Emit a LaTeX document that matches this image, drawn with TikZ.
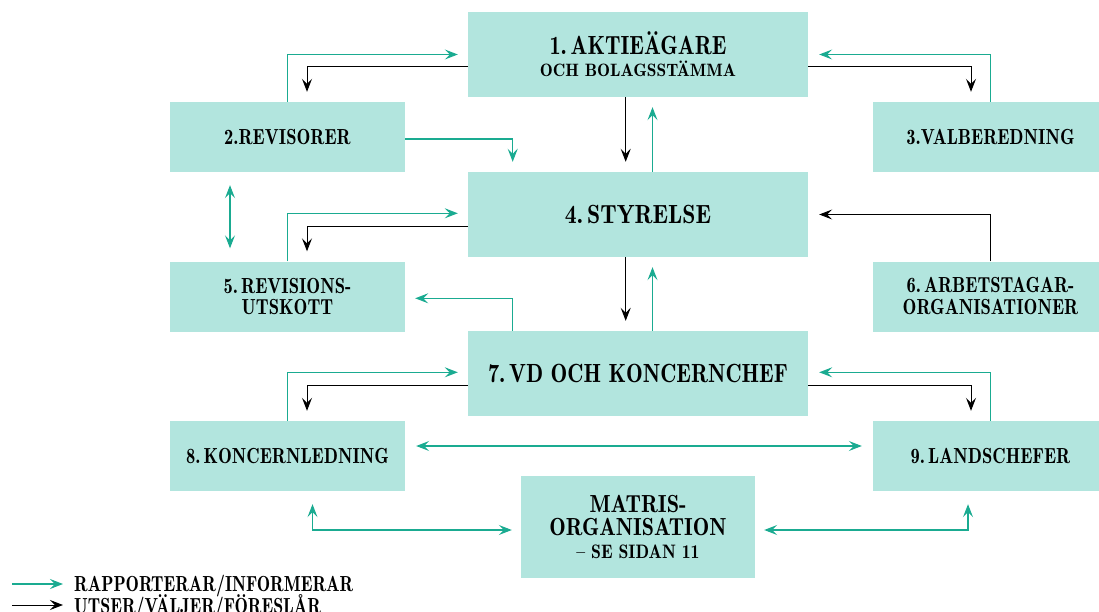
\documentclass[tikz,border=0pt]{standalone}
\usepackage{graphicx}
\usetikzlibrary{arrows.meta}
\definecolor{boxfill}{RGB}{178,229,222}
\definecolor{teal}{RGB}{26,171,145}
\newcommand{\sq}[2][0.85]{\scalebox{#1}[1]{#2}}
\newcommand{\bigf}{\fontseries{b}\fontsize{26.3}{22}\selectfont}
\newcommand{\medf}{\fontseries{b}\fontsize{21.8}{21}\selectfont}
\newcommand{\smlf}{\fontseries{b}\fontsize{17.9}{18}\selectfont}
\newcommand{\matf}{\fontseries{b}\fontsize{24.7}{23}\selectfont}
\newcommand{\matsf}{\fontseries{b}\fontsize{19.5}{23}\selectfont}
\tikzset{
  box/.style={fill=boxfill, draw=none, inner sep=0pt, align=center, text=black},
  bigbox/.style={box, minimum width=340pt, minimum height=85pt},
  medbox/.style={box, minimum width=235pt, minimum height=70pt},
  tl/.style={draw=teal, line width=1.1pt, -{Stealth[length=13pt,width=10pt,inset=5pt]}},
  tlboth/.style={draw=teal, line width=1.1pt, {Stealth[length=13pt,width=10pt,inset=5pt]}-{Stealth[length=13pt,width=10pt,inset=5pt]}},
  bl/.style={draw=black, line width=1pt, -{Stealth[length=13pt,width=10pt,inset=5pt]}},
}
\begin{document}
\begin{tikzpicture}[x=1pt,y=-1pt]
\useasboundingbox (0,0) rectangle (1099,612);
\clip (0,0) rectangle (1099,612);
% boxes
\node[bigbox, font=\fontsize{18}{21.7}\selectfont] (b1) at (638,54.5) {\bigf\sq{1.\,AKTIEÄGARE}\\\smlf\sq[0.97]{OCH BOLAGSSTÄMMA}};
\node[medbox] (b2) at (287.5,137) {\medf\sq{2.REVISORER}};
\node[medbox] (b3) at (990.5,137) {\medf\sq{3.VALBEREDNING}};
\node[bigbox] (b4) at (638,214.5) {\bigf\sq[0.9]{4.\,STYRELSE}};
\node[medbox, font=\fontsize{18}{21}\selectfont] (b5) at (287.5,296.5) {\medf\sq{5.\,REVISIONS-}\\\medf\sq{UTSKOTT}};
\node[medbox, font=\fontsize{18}{22}\selectfont] (b6) at (990.5,296.5) {\medf\sq{6.\,ARBETSTAGAR-}\\\medf\sq{ORGANISATIONER}};
\node[bigbox] (b7) at (638,373.5) {\bigf\sq{7.\,VD OCH KONCERNCHEF}};
\node[medbox] (b8) at (287.5,456) {\medf\sq{8.\,KONCERNLEDNING}};
\node[medbox] (b9) at (990.5,456) {\medf\sq{9.\,LANDSCHEFER}};
\node[box, minimum width=234pt, minimum height=102pt, font=\fontsize{18}{23.3}\selectfont] (m) at (638,527)
  {\matf\sq[0.9]{MATRIS-}\\
   \matf\sq[0.89]{ORGANISATION}\\
   \matsf\sq[0.91]{– SE SIDAN 11}};
% connectors top
\draw[tl, shorten >=10pt] (b2.north) |- (b1.west);
\draw[bl, shorten >=10pt] ([yshift=-12pt]b1.west) -| ([xshift=19.5pt]b2.north);
\draw[tl, shorten >=11pt] (b3.north) |- (b1.east);
\draw[bl, shorten >=10pt] ([yshift=-12pt]b1.east) -| ([xshift=-19.5pt]b3.north);
\draw[tl, shorten >=10pt] ([yshift=-2pt]b2.east) -| ([xshift=-125.3pt]b4.north);
\draw[bl, shorten >=10pt] ([xshift=-12.3pt]b1.south) -- ([xshift=-12.3pt]b4.north);
\draw[tl, shorten >=10pt] ([xshift=14.5pt]b4.north) -- ([xshift=14.5pt]b1.south);
% middle
\draw[tlboth, shorten <=13pt, shorten >=13pt] ([xshift=-57.5pt]b2.south) -- ([xshift=-57.5pt]b5.north);
\draw[tl, shorten >=10pt] (b5.north) |- ([yshift=1.2pt]b4.west);
\draw[bl, shorten >=10pt] ([yshift=-12pt]b4.west) -| ([xshift=19.5pt]b5.north);
\draw[tl, shorten >=10pt] ([xshift=-125.3pt]b7.north) |- ([yshift=-1.8pt]b5.east);
\draw[bl, shorten >=11pt] (b6.north) |- (b4.east);
\draw[bl, shorten >=10pt] ([xshift=-12.3pt]b4.south) -- ([xshift=-12.3pt]b7.north);
\draw[tl, shorten >=10pt] ([xshift=14.5pt]b7.north) -- ([xshift=14.5pt]b4.south);
% lower
\draw[tl, shorten >=10pt] (b8.north) |- ([yshift=1.2pt]b7.west);
\draw[bl, shorten >=10pt] ([yshift=-12pt]b7.west) -| ([xshift=19.5pt]b8.north);
\draw[tl, shorten >=11pt] (b9.north) |- ([yshift=1.2pt]b7.east);
\draw[bl, shorten >=10pt] ([yshift=-12pt]b7.east) -| ([xshift=-19.5pt]b9.north);
\draw[tlboth, shorten <=11pt, shorten >=11pt] ([yshift=10pt]b8.east) -- ([yshift=10pt]b9.west);
\draw[tlboth, shorten <=13pt, shorten >=9pt] ([xshift=25pt]b8.south) |- ([yshift=-3pt]m.west);
\draw[tlboth, shorten <=9pt, shorten >=13pt] ([yshift=-3pt]m.east) -| ([xshift=-22.5pt]b9.south);
% legend
\coordinate (l1a) at (12,584); \coordinate (l1b) at (63,584);
\coordinate (l2a) at (12,605); \coordinate (l2b) at (63,605);
\draw[tl] (l1a) -- (l1b);
\draw[bl] (l2a) -- (l2b);
\node[anchor=base west, inner sep=0pt] (lt1) at (74,591) {\medf\sq[0.82]{RAPPORTERAR/INFORMERAR}};
\node[anchor=base west, inner sep=0pt] (lt2) at (74,613) {\medf\sq[0.82]{UTSER/VÄLJER/FÖRESLÅR}};
\end{tikzpicture}
\end{document}
